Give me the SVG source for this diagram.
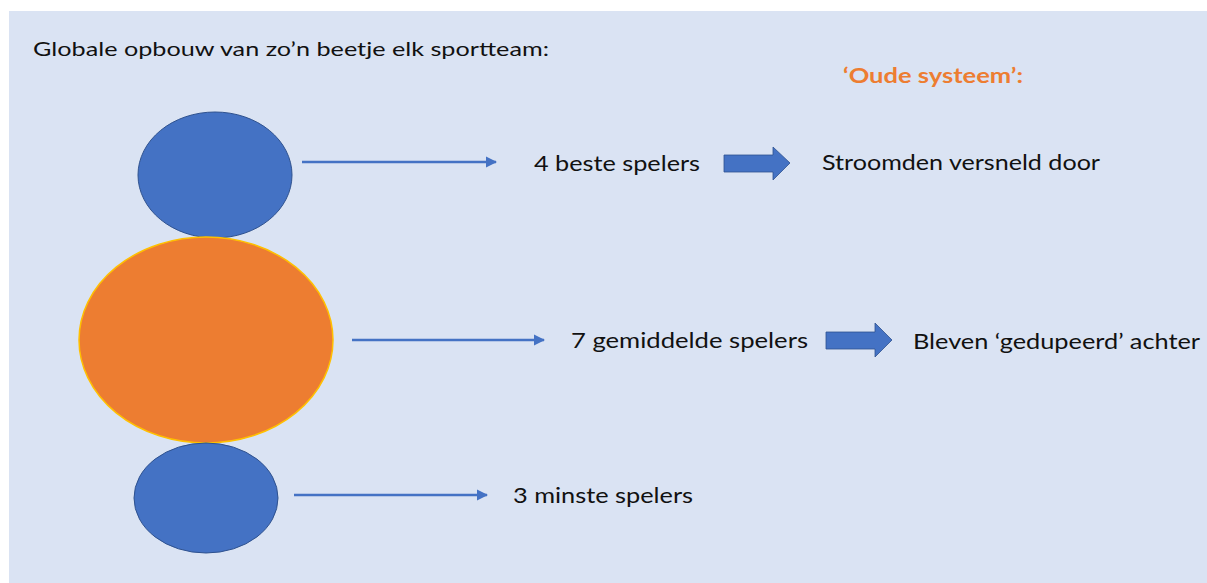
<svg xmlns="http://www.w3.org/2000/svg" width="1207" height="583" viewBox="0 0 1207 583">
  <defs>
    <style>
      .bg { fill: #FFFFFF; }
      .panel { fill: #DAE3F3; }
      .blue { fill: #4472C4; stroke: #2F528F; stroke-width: 1; }
      .orange { fill: #ED7D31; stroke: #FFC000; stroke-width: 1.5; }
      .line { stroke: #4472C4; stroke-width: 2.5; fill: none; }
      .block { fill: #4472C4; stroke: #2F528F; stroke-width: 0.8; }
      .txt { font-family: Lato, "Open Sans", "Liberation Sans", sans-serif; font-size: 21px; fill: #111111; }
      .title { font-size: 20px; }
      .hdr { font-family: Lato, "Open Sans", "Liberation Sans", sans-serif; font-size: 20px; font-weight: bold; fill: #ED7D31; }
    </style>
    <marker id="ah" viewBox="0 0 10 10" refX="9" refY="5" markerWidth="4.5" markerHeight="4.5" orient="auto" markerUnits="strokeWidth">
      <path d="M0,0 L10,5 L0,10 Z" fill="#4472C4"/>
    </marker>
  </defs>
  <rect class="bg" x="0" y="0" width="1207" height="583"/>
  <rect class="panel" x="9" y="11" width="1198" height="572"/>

  <text class="txt title" x="33" y="56" textLength="516" lengthAdjust="spacingAndGlyphs">Globale opbouw van zo’n beetje elk sportteam:</text>
  <text class="hdr" x="843" y="83" textLength="180" lengthAdjust="spacingAndGlyphs">‘Oude systeem’:</text>

  <g id="node-top">
    <ellipse class="blue" cx="215" cy="175" rx="77" ry="63"/>
  </g>
  <g id="node-middle">
    <ellipse class="orange" cx="206" cy="340" rx="127" ry="103"/>
  </g>
  <g id="node-bottom">
    <ellipse class="blue" cx="206" cy="498" rx="72" ry="55"/>
  </g>

  <g id="label-4">
    <text class="txt" x="534" y="171" textLength="166" lengthAdjust="spacingAndGlyphs">4 beste spelers</text>
  </g>
  <g id="label-7">
    <text class="txt" x="571" y="348" textLength="237" lengthAdjust="spacingAndGlyphs">7 gemiddelde spelers</text>
  </g>
  <g id="label-3">
    <text class="txt" x="513" y="503" textLength="180" lengthAdjust="spacingAndGlyphs">3 minste spelers</text>
  </g>
  <g id="result-1">
    <text class="txt" x="822" y="170" textLength="278" lengthAdjust="spacingAndGlyphs">Stroomden versneld door</text>
  </g>
  <g id="result-2">
    <text class="txt" x="913" y="349" textLength="287" lengthAdjust="spacingAndGlyphs">Bleven ‘gedupeerd’ achter</text>
  </g>

  <g id="connectors">
    <line class="line" x1="302" y1="162" x2="496" y2="162" marker-end="url(#ah)"/>
    <line class="line" x1="352" y1="340" x2="544" y2="340" marker-end="url(#ah)"/>
    <line class="line" x1="294" y1="495" x2="487" y2="495" marker-end="url(#ah)"/>
    <path class="block" d="M724,155 L773,155 L773,147 L790,163 L773,180 L773,172 L724,172 Z"/>
    <path class="block" d="M826,332 L875,332 L875,323 L892,340 L875,357 L875,349 L826,349 Z"/>
  </g>
</svg>
